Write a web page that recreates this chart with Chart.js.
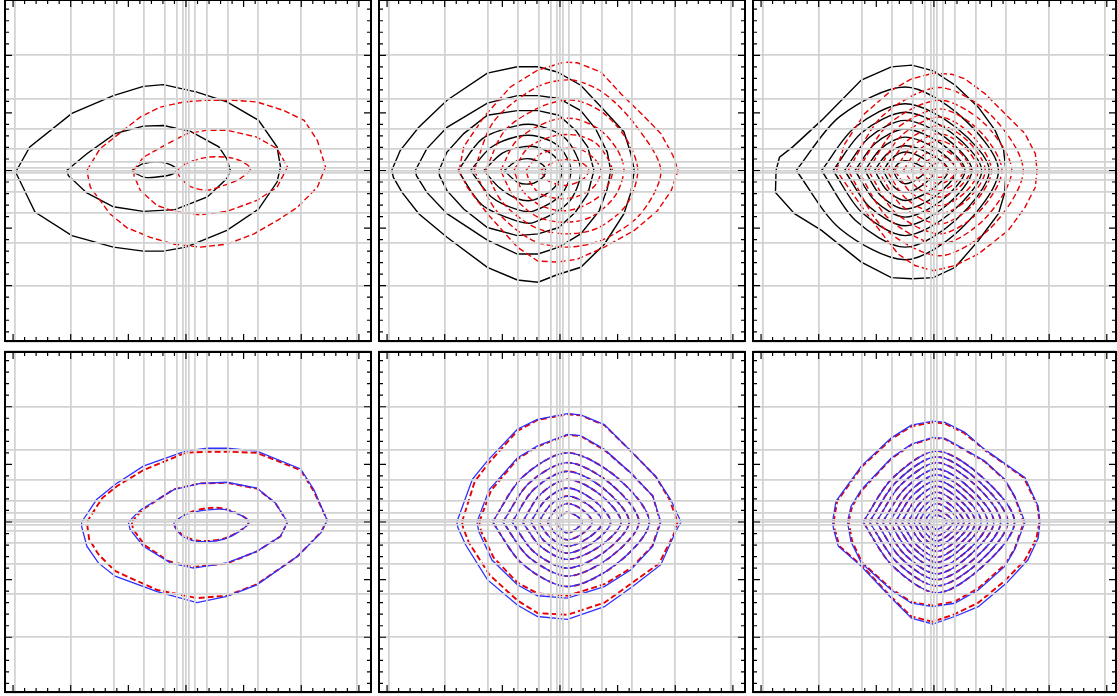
<!DOCTYPE html>
<html>
<head>
<meta charset="utf-8">
<script src="https://cdn.jsdelivr.net/npm/chart.js@4"></script>
<style>
  body { margin: 0; background: #fff; width: 1117px; height: 696px; overflow: hidden; position: relative; }
  canvas { position: absolute; }
</style>
</head>
<body>
<canvas id="c1"></canvas>
<canvas id="c2"></canvas>
<canvas id="c3"></canvas>
<canvas id="c4"></canvas>
<canvas id="c5"></canvas>
<canvas id="c6"></canvas>
<script>
// grid positions of the contour mesh (same on both axes)
const gridVals = [-2.97, -2.0, -1.25, -0.73, -0.37, -0.155, -0.045, 0, 0.045, 0.155, 0.37, 0.73, 1.25, 2.0, 2.97]
const majorTicks = [-3, -2, -1, 0, 1, 2, 3]

// contours: each one is a flat list x0,y0,x1,y1,...  (closed loop)
const p1Black = [
  [-2.94,0, -2.71,0.41, -1.98,0.99, -1.26,1.30, -0.74,1.46, -0.39,1.49, 0.19,1.36, 0.71,1.19, 1.26,0.87, 1.58,0.41, 1.64,0.06, 1.58,-0.2, 1.26,-0.67, 0.71,-1.04, 0,-1.33, -0.39,-1.40, -0.74,-1.40, -1.26,-1.33, -1.98,-1.13, -2.62,-0.72, -2.94,-0.06],
  [-2.07,0, -1.72,0.29, -1.23,0.64, -0.74,0.77, -0.39,0.78, 0.08,0.68, 0.57,0.41, 0.71,0.2, 0.77,0, 0.71,-0.14, 0.37,-0.46, -0.19,-0.68, -0.74,-0.71, -1.26,-0.63, -1.72,-0.39, -2.04,-0.09],
  [-0.94,0, -0.74,0.12, -0.39,0.14, -0.16,0.03, -0.21,-0.05, -0.39,-0.1, -0.71,-0.12, -0.91,-0.03]
]
const p1Red = [
  [-1.72,0, -1.49,0.38, -0.79,0.93, -0.45,1.10, -0.04,1.19, 0.37,1.22, 0.83,1.22, 1.23,1.19, 1.70,1.04, 2.05,0.87, 2.28,0.52, 2.42,0.06, 2.28,-0.29, 1.93,-0.64, 1.58,-0.87, 1.18,-1.10, 0.71,-1.28, 0.25,-1.33, -0.21,-1.28, -0.62,-1.16, -1.03,-0.99, -1.32,-0.75, -1.49,-0.52, -1.66,-0.29],
  [-0.91,0, -0.74,0.23, -0.33,0.46, 0.02,0.64, 0.37,0.70, 0.71,0.70, 1.23,0.58, 1.58,0.38, 1.76,0.06, 1.58,-0.29, 1.23,-0.52, 0.71,-0.71, 0.25,-0.77, -0.16,-0.72, -0.5,-0.61, -0.79,-0.35, -0.9,-0.09],
  [-0.16,0, 0.02,0.13, 0.37,0.23, 0.71,0.23, 0.94,0.17, 1.12,0.03, 0.94,-0.14, 0.71,-0.24, 0.37,-0.34, 0.08,-0.28, -0.1,-0.12]
]

const p2Black = [
  [-2.92,0, -2.77,0.35, -2.45,0.75, -1.96,1.22, -1.26,1.69, -0.74,1.80, -0.38,1.80, -0.05,1.71, 0.36,1.48, 0.77,1.04, 1.11,0.67, 1.23,0.29, 1.29,0, 1.23,-0.38, 1.11,-0.75, 0.77,-1.28, 0.36,-1.68, -0.05,-1.81, -0.38,-1.94, -0.74,-1.90, -1.26,-1.68, -1.96,-1.16, -2.45,-0.75, -2.74,-0.38, -2.89,-0.12],
  [-2.51,0, -2.31,0.38, -1.96,0.75, -1.26,1.17, -0.74,1.30, -0.38,1.30, -0.02,1.25, 0.36,1.04, 0.62,0.72, 0.82,0.32, 0.88,0, 0.82,-0.32, 0.68,-0.7, 0.36,-1.10, -0.02,-1.33, -0.38,-1.45, -0.74,-1.45, -1.26,-1.21, -1.96,-0.75, -2.31,-0.38, -2.49,-0.09],
  [-2.10,0, -1.96,0.32, -1.67,0.64, -1.26,0.96, -0.74,1.04, -0.38,1.04, -0.02,0.96, 0.27,0.70, 0.48,0.41, 0.59,0, 0.48,-0.41, 0.27,-0.72, -0.02,-0.99, -0.38,-1.10, -0.74,-1.13, -1.26,-0.99, -1.67,-0.67, -1.96,-0.35, -2.09,-0.09],
  [-1.77,0, -1.35,0.55, -0.74,0.78, -0.38,0.78, 0.1,0.55, 0.36,0, 0.15,-0.55, -0.45,-0.90, -0.74,-0.88, -1.35,-0.6],
  [-1.55,0, -1.2,0.4, -0.74,0.59, -0.38,0.59, 0,0.4, 0.19,0, 0.02,-0.42, -0.45,-0.70, -0.74,-0.68, -1.2,-0.45],
  [-1.32,0, -1.0,0.3, -0.65,0.41, -0.38,0.40, -0.1,0.25, 0.04,0, -0.1,-0.3, -0.45,-0.51, -0.74,-0.49, -1.05,-0.3],
  [-0.97,0, -0.74,0.17, -0.5,0.20, -0.3,0.1, -0.25,0, -0.3,-0.12, -0.5,-0.23, -0.74,-0.2]
]
const p2Red = [
  [-1.75,0, -1.67,0.41, -1.32,0.93, -0.86,1.45, -0.39,1.74, 0.07,1.88, 0.30,1.87, 0.71,1.71, 1.06,1.33, 1.47,0.93, 1.75,0.64, 1.96,0.26, 2.05,0, 1.93,-0.35, 1.69,-0.70, 1.29,-1.04, 0.77,-1.33, 0.30,-1.54, -0.05,-1.59, -0.39,-1.57, -0.74,-1.33, -1.26,-0.75, -1.61,-0.29],
  [-1.49,0, -1.15,0.85, -0.4,1.45, 0.2,1.57, 0.75,1.35, 1.3,0.8, 1.75,0, 1.4,-0.75, 0.75,-1.2, 0.1,-1.33, -0.5,-1.2, -1.1,-0.7],
  [-1.29,0, -0.95,0.7, -0.3,1.12, 0.25,1.22, 0.75,1.0, 1.15,0.55, 1.35,0, 1.15,-0.6, 0.65,-1.0, 0.1,-1.10, -0.45,-0.98, -1.0,-0.55],
  [-1.03,0, -0.75,0.52, -0.2,0.85, 0.25,0.90, 0.7,0.7, 1.0,0.35, 1.11,0, 0.95,-0.45, 0.55,-0.8, 0.1,-0.90, -0.4,-0.8, -0.8,-0.45],
  [-0.80,0, -0.55,0.4, -0.1,0.6, 0.3,0.61, 0.65,0.45, 0.91,0, 0.75,-0.38, 0.4,-0.62, 0.05,-0.70, -0.35,-0.6, -0.65,-0.35],
  [-0.59,0, -0.35,0.28, 0.05,0.38, 0.35,0.37, 0.6,0.2, 0.71,0, 0.6,-0.27, 0.3,-0.45, 0,-0.49, -0.35,-0.4, -0.52,-0.2],
  [-0.34,0, -0.1,0.15, 0.15,0.19, 0.4,0.12, 0.50,0, 0.4,-0.15, 0.1,-0.26, -0.2,-0.18]
]

const p3Black = [
  [-2.74,0, -2.68,0.23, -2.45,0.41, -1.95,0.87, -1.26,1.57, -0.74,1.80, -0.38,1.83, -0.01,1.73, 0.37,1.48, 0.77,1.10, 1.06,0.70, 1.21,0.35, 1.25,0, 1.23,-0.38, 1.12,-0.75, 0.77,-1.22, 0.37,-1.68, -0.01,-1.86, -0.38,-1.88, -0.74,-1.86, -1.26,-1.59, -1.95,-1.04, -2.42,-0.75, -2.75,-0.38],
  [-2.39,0, -1.63,0.94, -0.5,1.45, 0.47,0.94, 1.12,0, 0.47,-1.01, -0.5,-1.55, -1.63,-1.01],
  [-1.95,0, -1.37,0.75, -0.5,1.16, 0.38,0.75, 0.96,0, 0.38,-0.86, -0.5,-1.33, -1.37,-0.86],
  [-1.75,0, -1.25,0.66, -0.5,1.01, 0.30,0.66, 0.83,0, 0.30,-0.73, -0.5,-1.13, -1.25,-0.73],
  [-1.55,0, -1.13,0.57, -0.5,0.87, 0.20,0.57, 0.66,0, 0.20,-0.62, -0.5,-0.96, -1.13,-0.62],
  [-1.37,0, -1.02,0.47, -0.5,0.72, 0.12,0.47, 0.54,0, 0.12,-0.53, -0.5,-0.81, -1.02,-0.53],
  [-1.20,0, -0.92,0.38, -0.5,0.58, 0.03,0.38, 0.39,0, 0.03,-0.44, -0.5,-0.67, -0.92,-0.44],
  [-1.03,0, -0.82,0.28, -0.5,0.43, -0.05,0.28, 0.25,0, -0.05,-0.34, -0.5,-0.52, -0.82,-0.34],
  [-0.88,0, -0.73,0.21, -0.5,0.32, -0.19,0.21, 0.02,0, -0.19,-0.25, -0.5,-0.38, -0.73,-0.25],
  [-0.71,0, -0.63,0.11, -0.5,0.17, -0.29,0.11, -0.15,0, -0.29,-0.15, -0.5,-0.23, -0.63,-0.15]
]
const p3Red = [
  [-1.69,0, -1.55,0.46, -1.20,0.99, -0.74,1.39, -0.39,1.59, -0.01,1.69, 0.31,1.67, 0.54,1.59, 0.89,1.33, 1.23,0.99, 1.58,0.64, 1.76,0.29, 1.79,0, 1.76,-0.29, 1.58,-0.64, 1.29,-1.04, 0.77,-1.45, 0.37,-1.65, -0.01,-1.74, -0.33,-1.65, -0.62,-1.45, -0.85,-1.16, -1.20,-0.70, -1.49,-0.29],
  [-1.49,0, -0.89,0.95, 0.1,1.44, 1.00,0.95, 1.55,0, 1.00,-0.98, 0.1,-1.48, -0.89,-0.98],
  [-1.32,0, -0.78,0.81, 0.1,1.22, 0.88,0.81, 1.35,0, 0.88,-0.84, 0.1,-1.28, -0.78,-0.84],
  [-1.14,0, -0.67,0.71, 0.1,1.07, 0.77,0.71, 1.18,0, 0.77,-0.73, 0.1,-1.10, -0.67,-0.73],
  [-0.97,0, -0.56,0.61, 0.1,0.93, 0.66,0.61, 1.00,0, 0.66,-0.61, 0.1,-0.93, -0.56,-0.61],
  [-0.82,0, -0.47,0.51, 0.1,0.78, 0.59,0.51, 0.89,0, 0.59,-0.50, 0.1,-0.75, -0.47,-0.50],
  [-0.68,0, -0.38,0.42, 0.1,0.64, 0.52,0.42, 0.77,0, 0.52,-0.40, 0.1,-0.61, -0.38,-0.40],
  [-0.53,0, -0.29,0.34, 0.1,0.52, 0.43,0.34, 0.63,0, 0.43,-0.30, 0.1,-0.46, -0.29,-0.30],
  [-0.39,0, -0.20,0.25, 0.1,0.38, 0.35,0.25, 0.51,0, 0.35,-0.23, 0.1,-0.35, -0.20,-0.23],
  [-0.24,0, -0.11,0.17, 0.1,0.26, 0.28,0.17, 0.39,0, 0.28,-0.15, 0.1,-0.23, -0.11,-0.15],
  [-0.13,0, -0.04,0.09, 0.1,0.14, 0.19,0.09, 0.25,0, 0.19,-0.08, 0.1,-0.12, -0.04,-0.08]
]

const p4Blue = [
  [-1.81,0, -1.55,0.39, -1.23,0.65, -0.74,0.97, -0.01,1.23, 0.37,1.28, 0.71,1.28, 1.23,1.23, 1.99,0.92, 2.22,0.56, 2.45,0.03, 2.34,-0.19, 1.93,-0.60, 1.23,-1.09, 0.71,-1.29, 0.19,-1.40, -0.50,-1.21, -1.23,-0.94, -1.52,-0.71, -1.72,-0.42, -1.81,-0.08],
  [-1.00,0, -0.79,0.21, -0.21,0.56, 0.25,0.67, 0.71,0.69, 1.23,0.59, 1.55,0.33, 1.76,0, 1.64,-0.25, 1.23,-0.51, 0.71,-0.71, 0.13,-0.80, -0.27,-0.71, -0.74,-0.42, -0.97,-0.13],
  [-0.21,0, 0.02,0.14, 0.37,0.21, 0.71,0.21, 1.09,0, 0.71,-0.28, 0.25,-0.34, -0.04,-0.26, -0.19,-0.10]
]
const p4Red = [
  [-1.72,0, -1.45,0.42, -1.2,0.62, -0.74,0.90, -0.01,1.20, 0.37,1.22, 0.71,1.22, 1.23,1.20, 1.99,0.90, 2.22,0.53, 2.45,0.03, 2.34,-0.18, 1.93,-0.60, 1.23,-1.08, 0.71,-1.28, 0.19,-1.32, -0.5,-1.18, -1.23,-0.85, -1.52,-0.56, -1.68,-0.3],
  [-0.94,0, -0.76,0.21, -0.21,0.57, 0.25,0.67, 0.71,0.68, 1.23,0.58, 1.55,0.33, 1.76,0, 1.64,-0.25, 1.23,-0.51, 0.71,-0.72, 0.13,-0.78, -0.30,-0.68, -0.72,-0.40, -0.92,-0.12],
  [-0.19,0, 0.02,0.15, 0.37,0.24, 0.71,0.22, 1.09,0, 0.71,-0.27, 0.25,-0.33, -0.04,-0.24, -0.17,-0.10]
]

const p5Blue = [
  [-1.79,0, -1.52,0.74, -1.26,1.06, -0.74,1.61, -0.39,1.78, 0.13,1.88, 0.36,1.86, 0.77,1.69, 1.23,1.23, 1.66,0.79, 1.92,0.39, 2.10,0, 2.01,-0.16, 1.75,-0.74, 1.26,-1.12, 0.77,-1.47, 0.13,-1.69, -0.39,-1.64, -0.74,-1.44, -1.26,-1.00, -1.64,-0.39, -1.77,-0.10],
  [-1.44,0, -1.23,0.56, -0.74,1.11, -0.39,1.32, 0.13,1.52, 0.36,1.50, 0.77,1.26, 1.23,0.85, 1.61,0.45, 1.75,0, 1.61,-0.42, 1.23,-0.83, 0.77,-1.12, 0.13,-1.32, -0.39,-1.28, -0.74,-1.09, -1.18,-0.66, -1.41,-0.16],
  [-1.17,0, -0.65,0.78, 0.13,1.20, 0.98,0.78, 1.55,0, 0.98,-0.73, 0.13,-1.12, -0.65,-0.73],
  [-0.99,0, -0.54,0.67, 0.13,1.03, 0.87,0.67, 1.37,0, 0.87,-0.61, 0.13,-0.94, -0.54,-0.61],
  [-0.83,0, -0.45,0.57, 0.13,0.88, 0.77,0.57, 1.20,0, 0.77,-0.52, 0.13,-0.80, -0.45,-0.52],
  [-0.65,0, -0.34,0.48, 0.13,0.74, 0.69,0.48, 1.06,0, 0.69,-0.42, 0.13,-0.65, -0.34,-0.42],
  [-0.51,0, -0.25,0.38, 0.13,0.59, 0.58,0.38, 0.88,0, 0.58,-0.35, 0.13,-0.54, -0.25,-0.35],
  [-0.37,0, -0.17,0.29, 0.13,0.45, 0.50,0.29, 0.74,0, 0.50,-0.27, 0.13,-0.42, -0.17,-0.27],
  [-0.22,0, -0.08,0.21, 0.13,0.32, 0.39,0.21, 0.56,0, 0.39,-0.20, 0.13,-0.31, -0.08,-0.20],
  [-0.07,0, 0.02,0.11, 0.13,0.17, 0.28,0.11, 0.39,0, 0.28,-0.12, 0.13,-0.19, 0.02,-0.12]
]
// red follows blue closely inside; only the two outer rings part visibly
const p5Red = [
  [-1.70,0, -1.48,0.70, -1.24,1.02, -0.74,1.58, -0.39,1.77, 0.13,1.87, 0.36,1.85, 0.77,1.68, 1.23,1.23, 1.66,0.79, 1.90,0.39, 2.04,0, 1.98,-0.2, 1.72,-0.72, 1.26,-1.05, 0.77,-1.40, 0.13,-1.61, -0.39,-1.58, -0.74,-1.36, -1.22,-0.92, -1.58,-0.36, -1.68,-0.1],
  [-1.40,0, -1.20,0.54, -0.74,1.09, -0.39,1.31, 0.13,1.51, 0.36,1.49, 0.77,1.25, 1.23,0.85, 1.61,0.45, 1.74,0, 1.60,-0.42, 1.23,-0.80, 0.77,-1.08, 0.13,-1.28, -0.39,-1.24, -0.74,-1.05, -1.15,-0.62, -1.37,-0.16],
  ...p5Blue.slice(2)
]

const p6Blue = [
  [-1.76,0, -1.70,0.36, -1.26,0.97, -0.74,1.46, -0.39,1.68, -0.02,1.75, 0.19,1.73, 0.53,1.56, 0.88,1.26, 1.58,0.77, 1.81,0.27, 1.84,0, 1.81,-0.28, 1.63,-0.66, 1.26,-1.06, 0.77,-1.47, 0.36,-1.64, -0.02,-1.77, -0.39,-1.67, -0.74,-1.32, -1.26,-0.77, -1.66,-0.42, -1.74,-0.13],
  [-1.50,0, -1.44,0.27, -1.26,0.56, -0.74,1.11, -0.39,1.35, -0.02,1.47, 0.19,1.45, 0.53,1.26, 0.88,1.06, 1.23,0.74, 1.40,0.45, 1.58,0, 1.40,-0.48, 1.23,-0.77, 0.77,-1.18, 0.36,-1.41, -0.02,-1.47, -0.39,-1.41, -0.74,-1.18, -1.26,-0.71, -1.44,-0.34],
  [-1.23,0, -0.72,0.76, 0.05,1.23, 0.86,0.76, 1.40,0, 0.86,-0.76, 0.05,-1.23, -0.72,-0.76],
  [-1.12,0, -0.65,0.70, 0.05,1.13, 0.79,0.70, 1.28,0, 0.79,-0.69, 0.05,-1.11, -0.65,-0.69],
  [-1.00,0, -0.58,0.64, 0.05,1.03, 0.72,0.64, 1.16,0, 0.72,-0.62, 0.05,-1.00, -0.58,-0.62],
  [-0.89,0, -0.51,0.57, 0.05,0.92, 0.64,0.57, 1.04,0, 0.64,-0.56, 0.05,-0.90, -0.51,-0.56],
  [-0.77,0, -0.44,0.51, 0.05,0.82, 0.58,0.51, 0.93,0, 0.58,-0.50, 0.05,-0.80, -0.44,-0.50],
  [-0.67,0, -0.38,0.45, 0.05,0.72, 0.51,0.45, 0.82,0, 0.51,-0.43, 0.05,-0.70, -0.38,-0.43],
  [-0.56,0, -0.32,0.38, 0.05,0.62, 0.45,0.38, 0.72,0, 0.45,-0.38, 0.05,-0.61, -0.32,-0.38],
  [-0.45,0, -0.25,0.32, 0.05,0.52, 0.39,0.32, 0.62,0, 0.39,-0.32, 0.05,-0.51, -0.25,-0.32],
  [-0.35,0, -0.19,0.26, 0.05,0.42, 0.33,0.26, 0.52,0, 0.33,-0.26, 0.05,-0.42, -0.19,-0.26],
  [-0.26,0, -0.14,0.20, 0.05,0.32, 0.28,0.20, 0.43,0, 0.28,-0.20, 0.05,-0.33, -0.14,-0.20],
  [-0.17,0, -0.08,0.13, 0.05,0.21, 0.22,0.13, 0.33,0, 0.22,-0.15, 0.05,-0.24, -0.08,-0.15],
  [-0.09,0, -0.03,0.08, 0.05,0.12, 0.15,0.08, 0.23,0, 0.15,-0.08, 0.05,-0.13, -0.03,-0.08]
]
const p6Red = [
  [-1.74,0, -1.68,0.36, -1.25,0.96, -0.74,1.44, -0.39,1.66, -0.02,1.73, 0.19,1.71, 0.53,1.54, 0.88,1.25, 1.56,0.77, 1.80,0.27, 1.83,0, 1.78,-0.28, 1.58,-0.66, 1.23,-1.02, 0.77,-1.40, 0.36,-1.60, -0.02,-1.73, -0.39,-1.64, -0.74,-1.30, -1.25,-0.76, -1.64,-0.42, -1.72,-0.13],
  [-1.48,0, -1.42,0.27, -1.25,0.55, -0.74,1.10, -0.39,1.34, -0.02,1.46, 0.19,1.44, 0.53,1.25, 0.88,1.05, 1.23,0.73, 1.40,0.44, 1.56,0, 1.40,-0.47, 1.22,-0.75, 0.77,-1.15, 0.36,-1.38, -0.02,-1.45, -0.39,-1.39, -0.74,-1.16, -1.25,-0.70, -1.42,-0.33],
  ...p6Blue.slice(2)
]

function loop(flat) {
  const pts = []
  for (let i = 0; i < flat.length; i += 2) pts.push({ x: flat[i], y: flat[i + 1] })
  pts.push({ x: flat[0], y: flat[1] })
  return pts
}

function lineSets(lines, color, dash, width) {
  return lines.map(flat => ({
    data: loop(flat),
    showLine: true,
    borderColor: color,
    borderWidth: width,
    borderDash: dash,
    pointRadius: 0,
    fill: false,
    tension: flat.length <= 24 ? 0.3 : 0
  }))
}

// draws the black frame and the inward tick marks on all four sides
const framePlugin = {
  id: 'frame',
  afterDraw(chart) {
    const { ctx, chartArea: a, scales } = chart
    const minor = []
    for (let v = -3; v <= 3.25; v += 0.2) minor.push(Math.round(v * 10) / 10)
    ctx.save()
    ctx.strokeStyle = '#000'
    ctx.lineWidth = 1.2
    const mark = (vals, len) => {
      vals.forEach(v => {
        const px = scales.x.getPixelForValue(v)
        if (px > a.left + 1 && px < a.right - 1) {
          ctx.beginPath()
          ctx.moveTo(px, a.bottom); ctx.lineTo(px, a.bottom - len)
          ctx.moveTo(px, a.top); ctx.lineTo(px, a.top + len)
          ctx.stroke()
        }
        const py = scales.y.getPixelForValue(v)
        if (py > a.top + 1 && py < a.bottom - 1) {
          ctx.beginPath()
          ctx.moveTo(a.left, py); ctx.lineTo(a.left + len, py)
          ctx.moveTo(a.right, py); ctx.lineTo(a.right - len, py)
          ctx.stroke()
        }
      })
    }
    mark(minor.filter(v => !majorTicks.includes(v)), 4)
    mark(majorTicks, 7)
    ctx.lineWidth = 2
    ctx.strokeRect(a.left, a.top, a.right - a.left, a.bottom - a.top)
    ctx.restore()
  }
}

function axis(min, max, horizontal) {
  return {
    type: 'linear',
    min: min,
    max: max,
    afterBuildTicks: s => { s.ticks = gridVals.map(v => ({ value: v })) },
    afterFit: s => { if (horizontal) s.height = 0; else s.width = 0 },
    ticks: { display: false },
    grid: { color: '#d3d3d3', lineWidth: 1.8, drawTicks: false, z: 1 },
    border: { display: false }
  }
}

// Chart.js paints the first dataset on top: red over black on the top row,
// blue over a slightly wider red on the bottom row
const panels = [
  { id: 'c1', left: 5, top: 0, w: 366, h: 341, x: [-3.14, 3.21], y: [-2.96, 2.96], sets: [[p1Red, '#e80000', [6, 3], 1.4], [p1Black, '#000', [], 1.4]] },
  { id: 'c2', left: 379, top: 0, w: 366, h: 341, x: [-3.14, 3.21], y: [-2.96, 2.96], sets: [[p2Red, '#e80000', [6, 3], 1.4], [p2Black, '#000', [], 1.4]] },
  { id: 'c3', left: 753, top: 0, w: 363, h: 341, x: [-3.14, 3.16], y: [-2.96, 2.96], sets: [[p3Red, '#e80000', [6, 3], 1.4], [p3Black, '#000', [], 1.4]] },
  { id: 'c4', left: 5, top: 352, w: 366, h: 340, x: [-3.14, 3.21], y: [-2.95, 2.95], sets: [[p4Blue, '#3030ff', [], 1.3], [p4Red, '#e80000', [6, 3], 1.9]] },
  { id: 'c5', left: 379, top: 352, w: 366, h: 340, x: [-3.14, 3.21], y: [-2.95, 2.95], sets: [[p5Blue, '#3030ff', [], 1.3], [p5Red, '#e80000', [6, 3], 1.9]] },
  { id: 'c6', left: 753, top: 352, w: 363, h: 340, x: [-3.14, 3.16], y: [-2.95, 2.95], sets: [[p6Blue, '#3030ff', [], 1.3], [p6Red, '#e80000', [6, 3], 1.9]] }
]

const pad = 4
panels.forEach(p => {
  const cv = document.getElementById(p.id)
  cv.width = p.w + 2 * pad
  cv.height = p.h + 2 * pad
  cv.style.left = (p.left - pad) + 'px'
  cv.style.top = (p.top - pad) + 'px'
  cv.style.width = cv.width + 'px'
  cv.style.height = cv.height + 'px'
  let datasets = []
  p.sets.forEach(s => { datasets = datasets.concat(lineSets(s[0], s[1], s[2], s[3])) })
  new Chart(cv, {
    type: 'scatter',
    data: { datasets: datasets },
    options: {
      responsive: false,
      animation: false,
      layout: { padding: pad },
      plugins: { legend: { display: false }, tooltip: { enabled: false } },
      scales: { x: axis(p.x[0], p.x[1], true), y: axis(p.y[0], p.y[1], false) }
    },
    plugins: [framePlugin]
  })
})
</script>
</body>
</html>
